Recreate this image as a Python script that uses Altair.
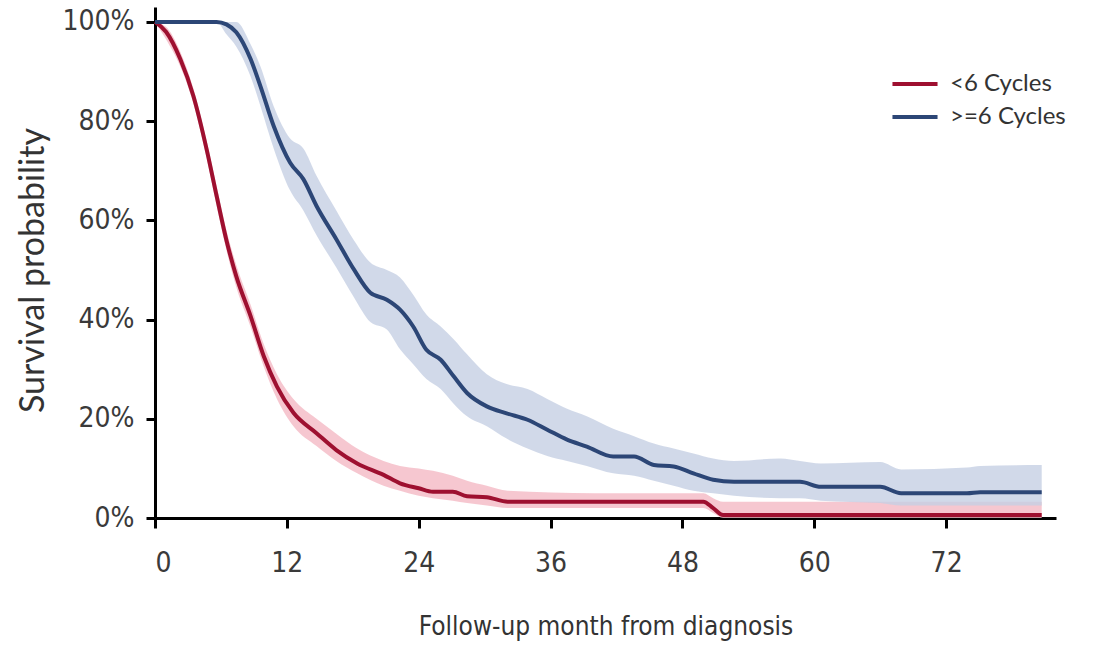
import altair as alt
import pandas as pd

# ---- data (percent) ----
groups = ["<6 Cycles", ">=6 Cycles"]

red_month = [0, 1, 2.3, 3.5, 4.7, 5.6, 6.5, 7.4, 8.7, 9.9, 11.1, 12.6, 14.7, 16.5, 18.4, 20.8,
             22.3, 24, 25.3, 27.1, 28.4, 30.2, 32.1, 40, 49.9, 50.8, 51.7, 60, 70, 80.7]
red_surv = [100, 98, 92.5, 85, 74.3, 65, 56, 48.7, 40.7, 32.6, 26.5, 21.2, 17.1, 13.7, 11, 8.7,
            7, 6, 5.3, 5.3, 4.4, 4.2, 3.3, 3.3, 3.3, 2, 0.6, 0.6, 0.6, 0.6]
red_lo = [100, 96.5, 91, 83.5, 72.5, 63, 54, 46.5, 38.5, 30.5, 24, 18.5, 14.5, 11.5, 9, 6.5,
          5.5, 4.5, 4, 3.5, 3, 2.5, 2, 2, 2, 1, 0, 0, 0, 0]
red_hi = [100, 99, 94, 86.5, 76, 67, 58, 51, 43, 35, 29, 24, 20, 17, 14, 11.5,
          10.5, 10, 9.5, 8.5, 7.5, 6.5, 5.5, 5, 5, 4, 3.3, 3.3, 3.3, 3.3]

blue_month = [0, 5.6, 6.5, 7.4, 8.7, 9.6, 10.8, 12.3, 13.5, 14.7, 16.5, 18.1, 19.6, 21.1, 22.3,
              23.5, 24.7, 26, 27.2, 28.4, 30.2, 32, 33.9, 35.7, 37.5, 39.3, 41.7, 43.6, 45.4,
              47.2, 49, 50.8, 52.7, 56.9, 58.7, 60.6, 66, 67.9, 73.9, 75.1, 80.7]
blue_surv = [100, 100, 99.5, 97.9, 92.5, 87, 79, 71.6, 68.3, 62.9, 56.2, 50.1, 45.4, 44, 42,
             38.6, 33.9, 31.9, 28.5, 25.2, 22.5, 21.1, 19.8, 17.8, 15.8, 14.4, 12.4, 12.4, 10.7,
             10.4, 9, 7.7, 7.3, 7.3, 7.3, 6.3, 6.3, 5, 5, 5.2, 5.2]
blue_lo = [100, 100, 97.5, 95, 89, 83, 74.5, 66, 62, 57, 50.5, 44.5, 39.5, 38, 34,
           31, 28, 26, 23, 20.5, 18.5, 16, 14, 12.5, 11.5, 10.5, 9, 8.5, 7.5,
           6.5, 5.5, 5, 4.5, 4, 4, 3.5, 3, 2.5, 2.5, 2.5, 2.5]
blue_hi = [100, 100, 100, 100, 95.5, 91, 83, 76.5, 74.5, 69, 62, 56, 51.5, 50, 48.5,
           45, 41, 38.6, 36, 33, 29, 27, 26, 24, 22, 20.5, 18, 16.5, 15,
           14, 13, 12, 11.5, 12, 11.5, 11, 11.3, 9.8, 10.2, 10.5, 10.7]

x_ticks = [0, 12, 24, 36, 48, 60, 72]
y_ticks = [0, 0.2, 0.4, 0.6, 0.8, 1.0]

line_colors = ["#9E1030", "#2C4676"]
band_colors = ["#F4B9C4", "#C5CFE3"]

rows = []
for g, ms, ss, ls, hs in [(groups[0], red_month, red_surv, red_lo, red_hi),
                          (groups[1], blue_month, blue_surv, blue_lo, blue_hi)]:
    for m, s, l, h in zip(ms, ss, ls, hs):
        rows.append({"group": g, "month": m,
                     "surv": s / 100, "lo": l / 100, "hi": h / 100})
df = pd.DataFrame(rows)

NARROW = "DejaVu Sans Condensed, DejaVu Sans, sans-serif"
FONT = "Lato"
xscale = alt.Scale(domain=[0, 82], nice=False, zero=False)
yscale = alt.Scale(domain=[0, 1.03], nice=False)

base = alt.Chart(df)


def band_layer(g, color):
    return base.transform_filter(alt.datum.group == g).mark_area(
        opacity=0.8, interpolate="monotone", color=color
    ).encode(
        x=alt.X("month:Q", scale=xscale),
        y=alt.Y("lo:Q", scale=yscale),
        y2="hi:Q",
    )


bands = [band_layer(g, c) for g, c in zip(groups, band_colors)]

line = base.mark_line(strokeWidth=4, interpolate="monotone").encode(
    x=alt.X("month:Q", scale=xscale,
            axis=alt.Axis(values=x_ticks, title="Follow-up month from diagnosis",
                          grid=False, tickSize=10, labelPadding=21, titleY=116,
                          titleBaseline="alphabetic", titleFont=NARROW, titleFontSize=26)),
    y=alt.Y("surv:Q", scale=yscale,
            axis=alt.Axis(values=y_ticks, format=".0%", title="Survival probability",
                          grid=False, tickSize=9, labelPadding=12, titleX=-112, titleY=263,
                          titleBaseline="alphabetic", titleFont=FONT, titleFontSize=34)),
    color=alt.Color("group:N", scale=alt.Scale(domain=groups, range=line_colors),
                    legend=alt.Legend(title=None, orient="none", legendX=748, legendY=65,
                                      symbolType="M-4,0H4", symbolSize=127,
                                      symbolStrokeWidth=4, symbolFillColor="transparent",
                                      rowPadding=9,
                                      labelFont=FONT, labelFontSize=24, labelColor="#333333",
                                      labelOffset=23)),
)

chart = alt.layer(*bands, line).properties(
    width=901, height=511,
    background="white",
    autosize=alt.AutoSizeParams(type="none"),
    padding={"left": 155, "top": 7, "right": 43, "bottom": 134},
).configure_view(stroke=None).configure_axis(
    domainColor="black", domainWidth=3, tickColor="black", tickWidth=3,
    labelFont=NARROW, labelFontSize=28, labelColor="#3a3a3a",
    titleFontWeight="normal", titleColor="#333333",
)

chart.save("out.html", embed_options={"renderer": "svg", "actions": False})
